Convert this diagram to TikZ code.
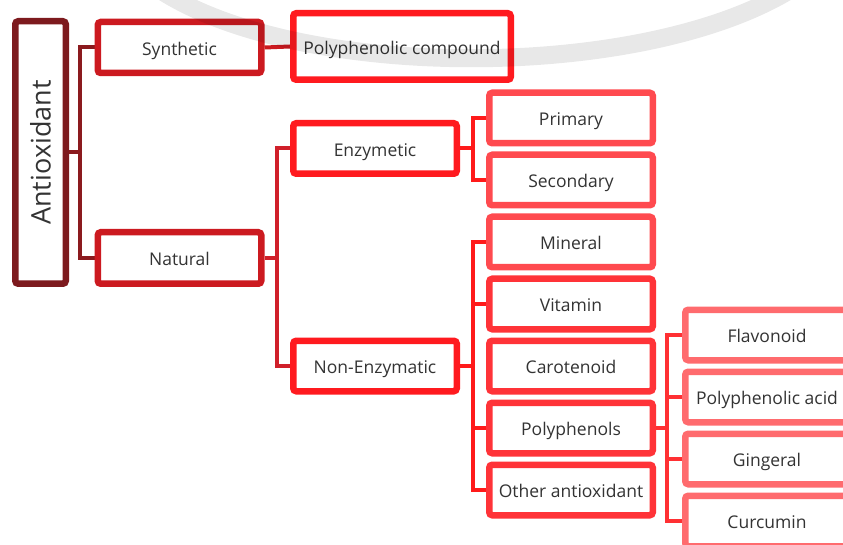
\documentclass[tikz,border=0pt]{standalone}
\usepackage{fontspec}
\setmainfont{Open Sans}
\usetikzlibrary{shadows}
\definecolor{txt}{HTML}{333333}
\definecolor{c0}{HTML}{7D1A1E}
\definecolor{c1}{HTML}{CC1A20}
\definecolor{c2}{HTML}{FF1A1F}
\definecolor{c3a}{HTML}{FF4A4F}
\definecolor{c3b}{HTML}{FF3338}
\definecolor{c4}{HTML}{FF6B6E}
\definecolor{k0}{HTML}{8B1A1E}
\definecolor{k1}{HTML}{D0202A}
\definecolor{k2}{HTML}{FF1A1A}
\definecolor{k3}{HTML}{FF3033}
\pgfdeclarelayer{bg}
\pgfdeclarelayer{top}
\pgfsetlayers{bg,main,top}
\begin{document}
\begin{tikzpicture}[x=1pt,y=-1pt,
  box/.style={draw, line width=6.5pt, rounded corners=3pt, fill=white, inner sep=0pt,
    minimum width=163.5pt, minimum height=50.5pt, text=txt,
    font=\fontsize{17.5}{20}\selectfont, text height=15.2pt, text depth=0pt,
    drop shadow={shadow xshift=2pt, shadow yshift=-2.5pt, opacity=0.18}},
  conn/.style={line width=4pt}]
\useasboundingbox (0,0) rectangle (843,545);
\clip (0,0) rectangle (843,545);

% nodes
\node[box, draw=c0, minimum width=50.5pt, minimum height=262.5pt, text height=, text depth=, font=\fontsize{27}{30}\selectfont] (root) at (40.5,152.5) {\rotatebox{90}{Antioxidant}};
\node[box, draw=c1, minimum height=51pt] (syn) at (179.5,47.5) {Synthetic};
\node[box, draw=c1, minimum height=51.5pt] (nat) at (179.5,258) {Natural};
\node[box, draw=c2, minimum width=217.5pt, minimum height=66.5pt] (pc) at (402,46.5) {Polyphenolic compound};
\node[box, draw=c2] (enz) at (375,148.5) {Enzymetic};
\node[box, draw=c2] (nonenz) at (375,366) {Non-Enzymatic};

\node[box, draw=c3a] (prim) at (571,118) {Primary};
\node[box, draw=c3a] (sec) at (571,180) {Secondary};
\node[box, draw=c3a] (mine) at (571,242) {Mineral};
\node[box, draw=c3b] (vit) at (571,304) {Vitamin};
\node[box, draw=c3b] (car) at (571,366) {Carotenoid};
\node[box, draw=c3b] (poly) at (571,428) {Polyphenols};
\node[box, draw=c3b] (oth) at (571,490) {Other antioxidant};

\node[box, draw=c4] (flav) at (767,335) {Flavonoid};
\node[box, draw=c4] (pacid) at (767,397) {Polyphenolic acid};
\node[box, draw=c4] (ging) at (767,459) {Gingeral};
\node[box, draw=c4] (curc) at (767,521) {Curcumin};

% junctions
\coordinate (j0) at (80,152.5);
\coordinate (j1) at (277,258);
\coordinate (j2) at (473,148.5);
\coordinate (j3) at (473,366);
\coordinate (j4) at (667,428);

\begin{pgfonlayer}{top}
\draw[line width=18pt, black, opacity=0.09] (160,-10) .. controls (300,81) and (640,81) .. (790,-10);
\end{pgfonlayer}

\begin{pgfonlayer}{bg}
\draw[conn, k0] (root.east) -- (j0);
\draw[conn, k0] (syn.west) -| (j0) |- (nat.west);
\draw[conn, c1] (syn.east) -- (pc.west);
\draw[conn, k1] (nat.east) -- (j1);
\draw[conn, k1] (enz.west) -| (j1) |- (nonenz.west);
\draw[conn, k2] (enz.east) -- (j2);
\draw[conn, k2] (prim.west) -| (j2) |- (sec.west);
\draw[conn, k2] (nonenz.east) -- (j3);
\draw[conn, k2] (mine.west) -| (j3) |- (oth.west);
\draw[conn, k2] (vit.west) -- (vit.west -| j3);
\draw[conn, k2] (poly.west) -- (poly.west -| j3);
\draw[conn, k3] (poly.east) -- (j4);
\draw[conn, k3] (flav.west) -| (j4) |- (curc.west);
\draw[conn, k3] (pacid.west) -- (pacid.west -| j4);
\draw[conn, k3] (ging.west) -- (ging.west -| j4);
\end{pgfonlayer}
\end{tikzpicture}
\end{document}
